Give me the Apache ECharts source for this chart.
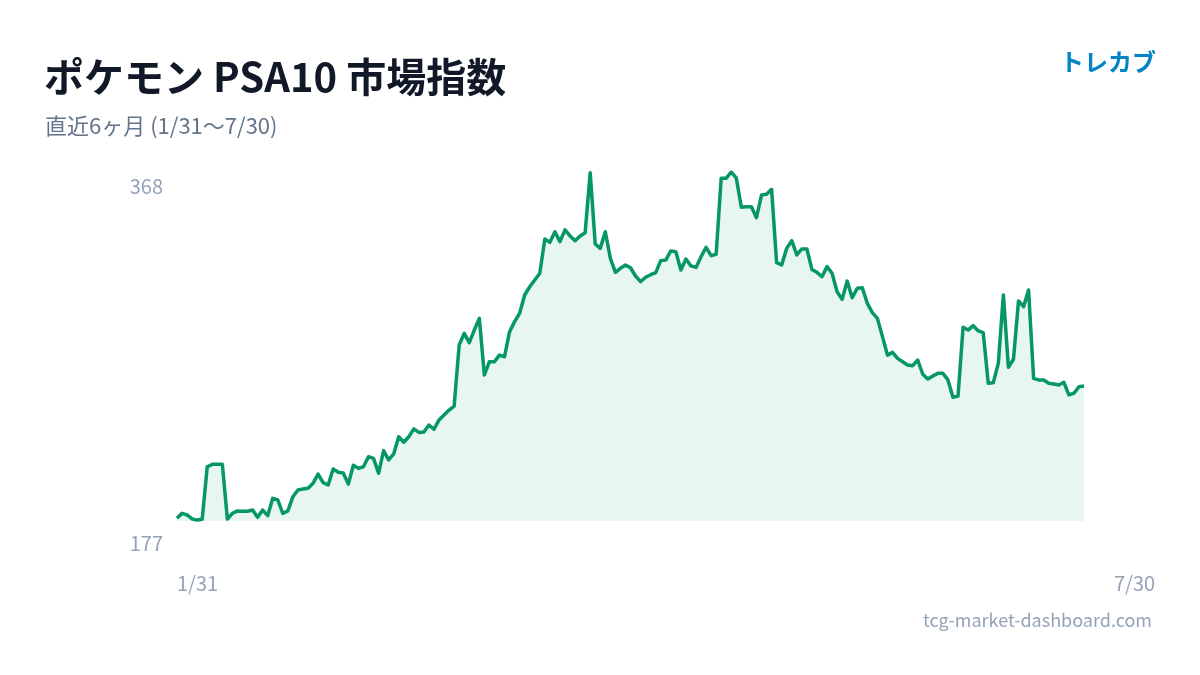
<!DOCTYPE html>
<html>
<head>
<meta charset="utf-8">
<title>ポケモン PSA10 市場指数</title>
<script src="https://cdn.jsdelivr.net/npm/echarts@6/dist/echarts.min.js"></script>
<style>
  html, body { margin: 0; padding: 0; background: #fff; }
  #chart { width: 1200px; height: 675px; }
</style>
</head>
<body>
<div id="chart"></div>
<script>
// 指数の値 (1/31〜7/30, 日次)
var indexValues = [
  178.5, 181.2, 180.3, 178.1, 177.5, 177.9, 206.7, 208.0, 208.0, 208.0,
  178.1, 181.2, 182.5, 182.3, 182.3, 183.0, 179.0, 183.0, 179.9, 189.4,
  188.5, 181.2, 182.5, 190.3, 194.0, 194.5, 194.9, 197.6, 202.7, 198.0,
  196.7, 205.5, 203.7, 203.3, 197.2, 207.5, 205.8, 206.7, 212.2, 211.3,
  203.1, 215.5, 210.4, 213.7, 223.1, 220.1, 223.1, 227.4, 225.5, 225.7,
  229.5, 227.2, 232.3, 235.0, 237.7, 239.9, 273.3, 279.7, 274.6, 281.5,
  287.9, 256.9, 264.2, 264.2, 267.8, 266.9, 280.6, 286.1, 290.7, 300.7,
  305.2, 308.9, 312.6, 331.3, 329.5, 335.3, 329.9, 336.3, 333.0, 330.4,
  333.0, 334.8, 367.6, 328.6, 326.2, 335.3, 320.8, 313.1, 315.3, 317.1,
  315.6, 311.1, 308.0, 310.4, 311.8, 312.9, 319.5, 319.8, 324.8, 324.4,
  314.4, 320.4, 316.6, 315.8, 321.6, 326.8, 322.2, 323.0, 364.6, 364.6,
  368.0, 364.6, 348.7, 349.0, 349.0, 343.0, 355.4, 355.8, 358.5, 318.4,
  317.1, 326.2, 330.4, 322.6, 325.9, 325.9, 314.7, 313.1, 310.7, 316.2,
  312.6, 302.5, 298.3, 308.3, 299.2, 304.4, 304.7, 296.1, 291.0, 287.9,
  277.9, 267.8, 269.3, 266.0, 264.2, 262.4, 262.0, 265.1, 257.3, 254.7,
  256.4, 257.8, 257.8, 254.2, 244.7, 245.4, 283.0, 281.5, 283.9, 281.1,
  280.1, 252.4, 252.7, 263.3, 300.7, 261.1, 265.5, 297.4, 294.3, 303.4,
  255.1, 254.2, 254.2, 252.4, 252.0, 251.4, 252.9, 246.0, 246.9, 250.5,
  250.9
];
var yMin = 177;
var yMax = 368;
var startLabel = '1/31';
var endLabel = '7/30';

// 日付カテゴリ (2025/1/31 から)
var dates = [];
var d0 = new Date(2025, 0, 31);
for (var i = 0; i < indexValues.length; i++) {
  var d = new Date(d0.getFullYear(), d0.getMonth(), d0.getDate() + i);
  dates.push((d.getMonth() + 1) + '/' + d.getDate());
}

var FONT = '"Noto Sans CJK JP", "Noto Sans", sans-serif';
var myChart = echarts.init(document.getElementById('chart'));

var option = {
  animation: false,
  backgroundColor: '#ffffff',
  title: [
    {
      text: 'ポケモン PSA10 市場指数',
      left: 39, top: 50,
      textStyle: { fontFamily: FONT, fontSize: 40, fontWeight: 'bold', color: '#111827', lineHeight: 44 }
    },
    {
      text: '直近6ヶ月 (' + startLabel + '〜' + endLabel + ')',
      left: 40, top: 109,
      textStyle: { fontFamily: FONT, fontSize: 22, fontWeight: 'normal', color: '#64748b', lineHeight: 24 }
    },
    {
      text: 'トレカブ',
      right: 39, top: 44,
      textStyle: { fontFamily: FONT, fontSize: 24, fontWeight: 'bold', color: '#0284c7', lineHeight: 26 }
    },
    {
      text: 'tcg-market-dashboard.com',
      right: 43, top: 604,
      textStyle: { fontFamily: FONT, fontSize: 18, fontWeight: 'normal', color: '#94a3b8', lineHeight: 22 }
    }
  ],
  grid: { left: 177, right: 116, top: 172, bottom: 154, containLabel: false },
  xAxis: {
    type: 'category',
    data: dates,
    boundaryGap: false,
    axisLine: { show: false },
    axisTick: { show: false },
    splitLine: { show: false },
    axisLabel: {
      interval: function (idx) { return idx === 0 || idx === indexValues.length - 1; },
      margin: 51,
      align: 'left',
      formatter: function (val, idx) {
        return idx === 0 ? '{a|' + val + '}' : '{b|' + val + '}';
      },
      rich: {
        a: { fontFamily: FONT, fontSize: 20, color: '#94a3b8', lineHeight: 22 },
        b: { fontFamily: FONT, fontSize: 20, color: '#94a3b8', lineHeight: 22, padding: [0, 0, 0, 30] }
      }
    }
  },
  yAxis: {
    type: 'value',
    min: yMin,
    max: yMax,
    interval: yMax - yMin,
    axisLine: { show: false },
    axisTick: { show: false },
    splitLine: { show: false },
    axisLabel: {
      margin: 14,
      formatter: function (v) {
        return v === yMax ? '{t|' + v + '}' : '{b|' + v + '}';
      },
      rich: {
        t: { fontFamily: FONT, fontSize: 20, color: '#94a3b8', lineHeight: 22, padding: [28, 0, 0, 0] },
        b: { fontFamily: FONT, fontSize: 20, color: '#94a3b8', lineHeight: 22, padding: [44, 0, 0, 0] }
      }
    }
  },
  series: [{
    name: '指数',
    type: 'line',
    data: indexValues,
    showSymbol: false,
    symbol: 'none',
    lineStyle: { color: '#059669', width: 3.5, join: 'round' },
    areaStyle: { color: 'rgba(5,150,105,0.13)' }
  }]
};

myChart.setOption(option);
</script>
</body>
</html>
